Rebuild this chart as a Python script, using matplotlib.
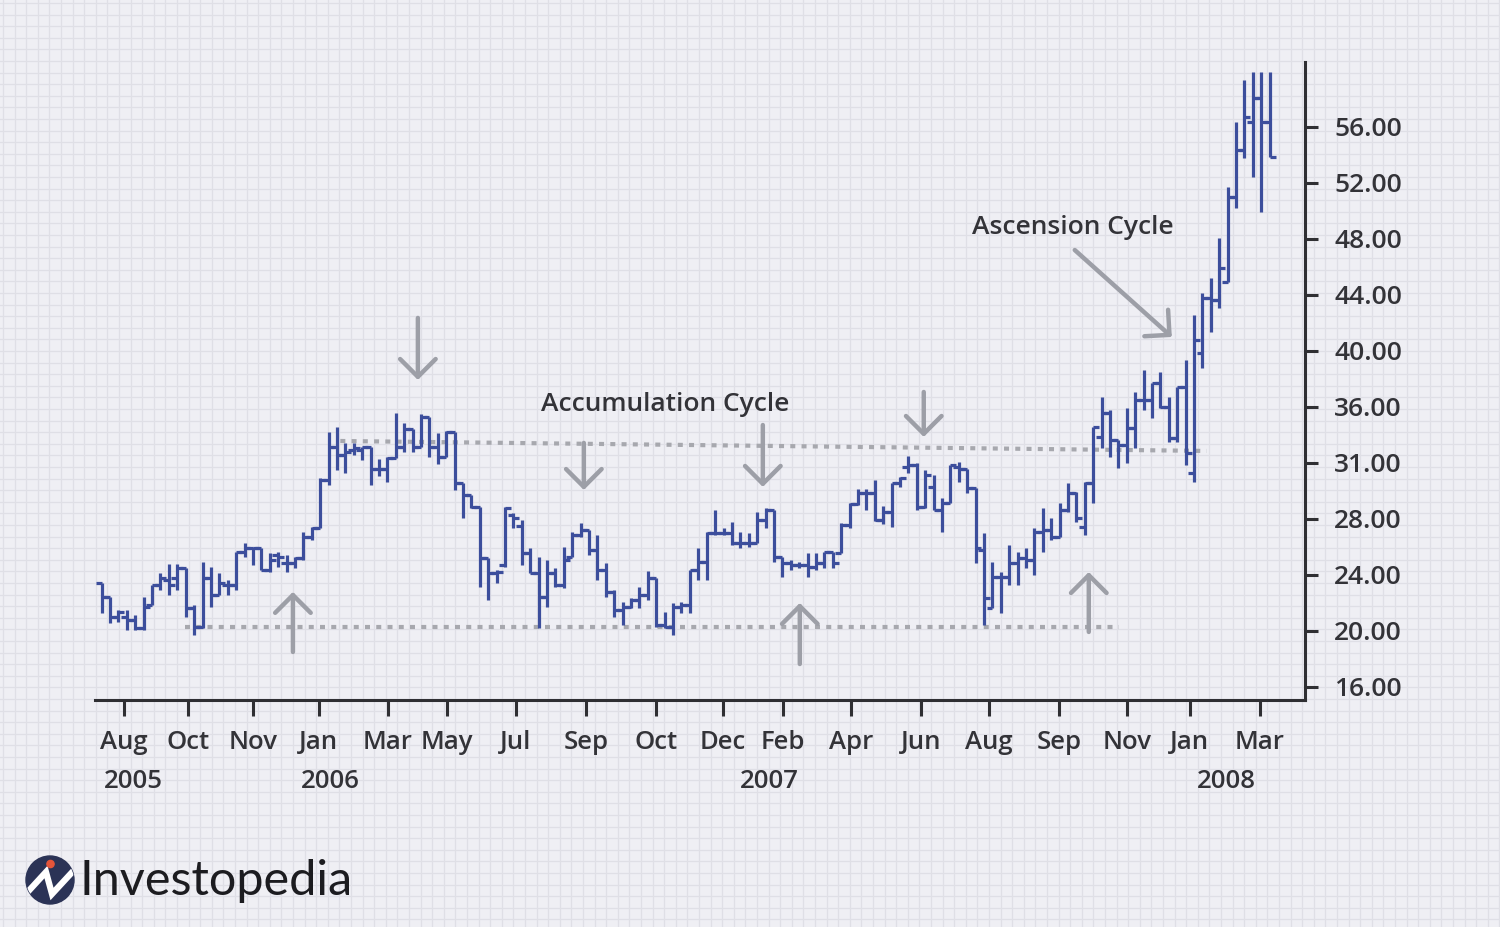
import numpy as np
import matplotlib.pyplot as plt
from matplotlib.patches import Circle

plt.rcParams['font.family'] = ['Open Sans', 'DejaVu Sans']
plt.rcParams['font.weight'] = 'semibold'

# weekly OHLC bars (price units of the right axis)
opens = [23.40, 22.45, 21.02, 21.02, 20.79, 20.19, 21.86, 23.29, 23.64, 23.76,
         24.48, 21.62, 20.31, 23.76, 22.57, 23.29, 23.29, 25.67, 25.90, 25.90,
         24.36, 25.43, 24.83, 24.83, 25.19, 26.74, 27.33, 30.79, 33.17, 32.57,
         32.93, 32.93, 33.17, 31.55, 31.55, 32.33, 33.17, 34.40, 33.17, 35.31,
         33.17, 32.45, 34.24, 30.55, 29.71, 28.88, 25.19, 24.12, 24.71, 28.29,
         27.50, 25.55, 24.17, 22.45, 24.12, 23.29, 25.31, 26.86, 27.21, 25.79,
         24.36, 22.81, 21.50, 21.74, 22.21, 22.57, 23.76, 20.43, 20.31, 21.74,
         21.86, 24.36, 24.95, 27.02, 26.98, 26.98, 26.26, 26.26, 26.31, 27.93,
         28.64, 25.31, 24.83, 24.71, 24.71, 24.60, 24.83, 25.67, 25.55, 27.57,
         29.07, 29.83, 29.83, 27.93, 28.52, 30.55, 31.74, 31.86, 28.88, 30.31,
         28.64, 29.12, 31.74, 31.55, 30.19, 25.79, 21.62, 23.88, 23.88, 24.83,
         25.19, 25.07, 27.10, 27.21, 26.74, 28.64, 29.83, 27.45, 30.55, 33.88,
         35.55, 33.64, 33.29, 34.48, 36.50, 36.50, 37.69, 36.02, 33.76, 37.45,
         31.29, 39.83, 43.76, 43.64, 44.95, 51.02, 54.36, 56.38, 58.05, 56.38]
highs = [23.40, 22.45, 21.50, 21.50, 21.14, 22.45, 23.29, 24.12, 24.76, 24.76,
         24.48, 21.86, 24.95, 24.60, 24.12, 23.64, 25.67, 26.31, 26.02, 25.90,
         25.55, 25.67, 25.43, 25.31, 27.10, 27.45, 30.90, 34.24, 34.55, 33.40,
         33.40, 33.17, 33.17, 32.26, 32.45, 35.55, 34.83, 34.40, 35.50, 35.31,
         34.17, 34.31, 34.24, 30.55, 29.71, 28.88, 25.19, 24.36, 28.83, 28.40,
         27.93, 25.90, 25.31, 25.07, 24.48, 26.02, 27.10, 27.69, 27.21, 26.86,
         24.83, 22.93, 22.10, 22.33, 23.17, 24.31, 23.76, 21.38, 21.98, 22.10,
         24.36, 25.90, 27.10, 28.64, 27.33, 27.81, 27.10, 26.98, 28.52, 28.76,
         28.64, 25.31, 25.07, 24.95, 25.55, 25.55, 25.67, 25.67, 27.69, 29.12,
         30.12, 30.12, 30.79, 28.93, 30.55, 31.02, 32.50, 31.98, 31.50, 31.14,
         29.48, 31.86, 32.10, 31.55, 30.19, 26.98, 24.95, 24.24, 26.14, 25.67,
         25.90, 27.33, 28.76, 28.05, 29.12, 30.55, 29.95, 30.67, 34.60, 36.74,
         35.79, 33.64, 35.90, 37.10, 38.64, 37.69, 38.52, 36.74, 37.45, 39.36,
         42.57, 44.12, 45.19, 48.05, 51.74, 56.38, 59.36, 59.95, 59.95, 59.95]
lows = [21.26, 20.55, 20.67, 20.07, 20.07, 20.07, 21.86, 22.93, 22.57, 22.93,
        21.02, 19.71, 20.19, 21.74, 22.57, 22.57, 22.93, 25.31, 24.71, 24.36,
        24.24, 24.60, 24.24, 24.48, 25.07, 26.50, 27.33, 30.43, 31.50, 31.26,
        32.57, 32.21, 30.43, 31.07, 30.67, 32.33, 32.81, 32.81, 33.17, 32.45,
        31.93, 32.45, 30.07, 28.05, 28.76, 23.17, 22.21, 23.40, 24.60, 27.33,
        24.71, 24.12, 20.19, 21.74, 23.17, 23.05, 25.31, 26.74, 25.43, 23.64,
        22.45, 21.02, 20.43, 21.62, 21.62, 22.21, 20.31, 20.19, 19.71, 21.26,
        21.26, 23.64, 23.64, 26.86, 26.86, 26.14, 25.90, 26.02, 26.26, 27.33,
        24.95, 23.88, 24.36, 24.48, 23.83, 24.36, 24.48, 24.48, 25.55, 27.33,
        29.00, 28.64, 27.88, 27.64, 27.45, 30.31, 31.26, 28.64, 28.76, 28.64,
        27.10, 29.12, 30.67, 29.83, 24.83, 20.43, 21.62, 21.26, 23.29, 23.29,
        24.48, 24.00, 25.67, 26.50, 26.74, 28.52, 27.81, 26.86, 29.12, 33.05,
        32.45, 31.62, 32.02, 33.05, 35.79, 35.19, 35.90, 33.52, 33.52, 31.86,
        30.64, 38.76, 41.38, 43.05, 44.95, 50.19, 53.76, 52.45, 49.95, 53.88]
closes = [22.45, 21.02, 21.38, 20.79, 20.19, 21.74, 23.29, 23.76, 23.29, 24.48,
          21.62, 20.31, 23.76, 22.57, 23.40, 23.29, 25.67, 25.90, 25.90, 24.36,
          25.07, 25.31, 24.83, 25.19, 26.74, 27.33, 30.79, 33.17, 32.57, 32.81,
          33.05, 33.17, 31.55, 31.55, 32.33, 33.17, 34.40, 33.17, 35.31, 33.17,
          32.45, 34.24, 30.55, 29.71, 28.88, 25.19, 24.12, 24.24, 28.76, 28.05,
          25.55, 24.17, 22.45, 24.12, 23.29, 25.07, 26.86, 27.21, 25.79, 24.36,
          22.81, 21.50, 21.74, 22.21, 22.57, 23.76, 20.43, 20.31, 21.74, 21.86,
          24.36, 24.95, 27.02, 26.98, 26.98, 26.26, 26.26, 26.31, 27.93, 28.64,
          25.31, 24.83, 24.71, 24.71, 24.60, 24.83, 25.67, 24.83, 27.57, 29.07,
          29.83, 29.83, 27.93, 28.52, 30.55, 30.90, 31.86, 28.88, 31.14, 28.64,
          29.12, 31.86, 31.55, 30.19, 25.90, 22.33, 23.88, 23.88, 24.83, 25.19,
          25.07, 27.10, 27.21, 26.74, 28.64, 29.83, 28.05, 30.55, 34.60, 35.55,
          33.64, 33.29, 34.48, 36.50, 36.50, 37.69, 36.02, 33.76, 37.45, 32.69,
          40.79, 43.76, 43.64, 45.90, 51.02, 54.36, 56.74, 58.05, 56.38, 53.88]

month_pos = [2.65, 10.27, 18.0, 25.85, 34.06, 41.08, 49.29, 57.62, 65.95,
             73.92, 81.06, 89.15, 97.48, 105.57, 113.9, 121.99, 129.49, 137.82]
month_labels = ['Aug', 'Oct', 'Nov', 'Jan', 'Mar', 'May', 'Jul', 'Sep', 'Oct',
                'Dec', 'Feb', 'Apr', 'Jun', 'Aug', 'Sep', 'Nov', 'Jan', 'Mar']
year_pos = [3.72, 27.16, 79.5, 133.8]
year_labels = ['2005', '2006', '2007', '2008']
price_ticks = [16, 20, 24, 28, 32, 36, 40, 44, 48, 52, 56]
price_labels = ['16.00', '20.00', '24.00', '28.00', '31.00', '36.00',
                '40.00', '44.00', '48.00', '52.00', '56.00']

# trend lines (bar index, price)
resist_x = [28.4, 131.5]
resist_y = [33.57, 32.86]
support_x = [9.9, 121.1]
support_y = [20.29, 20.29]

# arrows: (tip, tail)
arrows = [((37.63, 37.93), (37.63, 42.36)),
          ((57.38, 30.07), (57.38, 33.43)),
          ((78.68, 30.29), (78.68, 34.71)),
          ((97.83, 33.86), (97.83, 37.07)),
          ((22.76, 22.79), (22.76, 18.5)),
          ((83.08, 22.0), (83.08, 17.64)),
          ((117.47, 24.21), (117.47, 19.93)),
          ((127.35, 41.0), (115.8, 47.21))]

bar_color = '#3c4e9c'
gray = '#9d9fa7'
text_color = '#333338'

fig = plt.figure(figsize=(15, 9.27), dpi=100)
fig.patch.set_facecolor('#efeff4')

# graph-paper background
bg = fig.add_axes([0, 0, 1, 1])
bg.set_xlim(0, 1500)
bg.set_ylim(927, 0)
bg.axis('off')
for g in np.arange(3, 1500, 11.6):
    bg.axvline(g, color='#dfdfe6', lw=0.9, zorder=1)
for g in np.arange(3, 927, 11.6):
    bg.axhline(g, color='#dfdfe6', lw=0.9, zorder=1)

# logo
logo = Circle((50, 880), 24, color='#2b3356', zorder=5)
bg.add_patch(logo)
zig, = bg.plot([24, 46, 52, 76], [896, 872, 894, 868], color='white', lw=4.5,
               solid_joinstyle='miter', zorder=6)
zig.set_clip_path(logo)
bg.add_patch(Circle((50.5, 864), 3.6, color='#e5553a', zorder=7))
bg.text(80, 881, 'Investopedia', fontsize=35, fontweight='normal',
        family=['Lato', 'DejaVu Sans'], color='#1c1c20', ha='left',
        va='center', zorder=7)

ax = fig.add_axes([0.0633, 0.2449, 0.8067, 0.6882])
ax.patch.set_alpha(0)

idx = np.arange(len(opens))
ax.vlines(idx, lows, highs, color=bar_color, lw=2.3, zorder=3)
ax.hlines(opens, idx - 0.7, idx, color=bar_color, lw=2.3, zorder=3)
ax.hlines(closes, idx, idx + 0.7, color=bar_color, lw=2.3, zorder=3)

ax.plot(resist_x, resist_y, color='#a7a8ae', lw=3.0, ls=(0, (1.2, 1.5)), zorder=2)
ax.plot(support_x, support_y, color='#a7a8ae', lw=3.0, ls=(0, (1.2, 1.5)), zorder=2)

for tip, tail in arrows:
    ax.annotate('', xy=tip, xytext=tail,
                arrowprops=dict(arrowstyle='->,head_length=0.64,head_width=0.64',
                                color=gray, lw=3.2, shrinkA=0, shrinkB=0,
                                mutation_scale=20), zorder=4)

ax.text(67.02, 36.21, 'Accumulation Cycle', fontsize=19, color=text_color,
        ha='center', va='center')
ax.text(115.57, 48.79, 'Ascension Cycle', fontsize=19, color=text_color,
        ha='center', va='center')

ax.set_xlim(-0.8, 143.2)
ax.set_ylim(15.07, 60.64)

for s in ['left', 'top']:
    ax.spines[s].set_visible(False)
for s in ['bottom', 'right']:
    ax.spines[s].set_linewidth(2.2)
    ax.spines[s].set_color('#2f2f33')

ax.yaxis.tick_right()
ax.set_yticks(price_ticks, price_labels)
ax.set_xticks(month_pos, month_labels)
ax.tick_params(axis='y', length=9, width=2.2, pad=12, labelsize=19,
               colors='#2f2f33', labelcolor=text_color)
ax.tick_params(axis='x', length=11.5, width=2.2, pad=10, labelsize=18.5,
               colors='#2f2f33', labelcolor=text_color)

for xp, lab in zip(year_pos, year_labels):
    ax.text(xp, -0.128, lab, transform=ax.get_xaxis_transform(), fontsize=18.5,
            color=text_color, ha='center', va='center')

fig.savefig('out.png', dpi=100, facecolor=fig.get_facecolor())
